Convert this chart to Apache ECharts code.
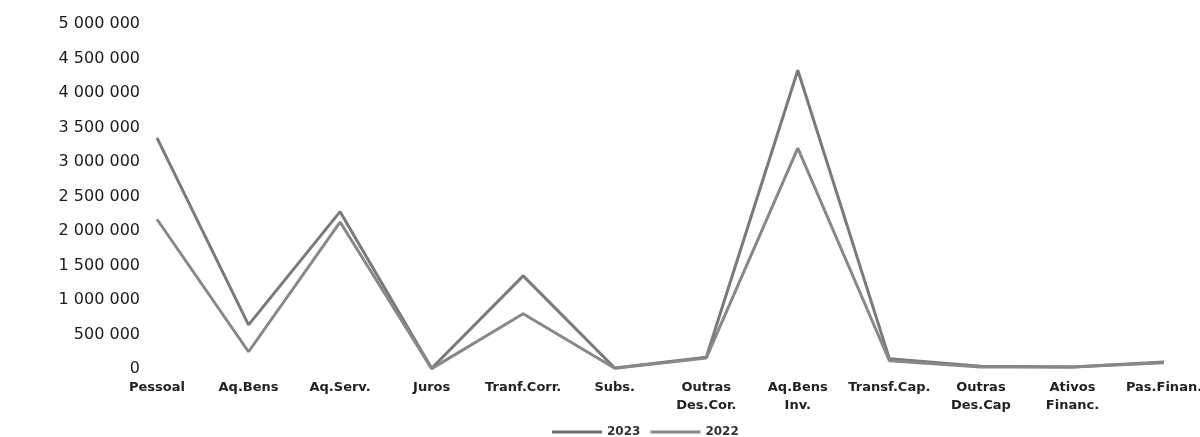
<!DOCTYPE html>
<html>
<head>
<meta charset="utf-8">
<script src="https://cdn.jsdelivr.net/npm/echarts@6/dist/echarts.min.js"></script>
<style>
  html, body { margin: 0; padding: 0; background: #fff; }
  #chart1 { width: 1200px; height: 437px; }
</style>
</head>
<body>
<div id="chart1"></div>
<script>
var categories = ["Pessoal", "Aq.Bens", "Aq.Serv.", "Juros", "Tranf.Corr.", "Subs.", "Outras\nDes.Cor.", "Aq.Bens\nInv.", "Transf.Cap.", "Outras\nDes.Cap", "Ativos\nFinanc.", "Pas.Finan."];
var values2023 = [3350000, 640000, 2280000, 10000, 1350000, 15000, 170000, 4330000, 150000, 40000, 30000, 100000];
var values2022 = [2170000, 250000, 2130000, 5000, 800000, 10000, 160000, 3200000, 120000, 30000, 30000, 90000];
var yTicks = [0, 5000000, 500000]; // min, max, interval

var fmt = function (v) {
    return String(v).replace(/\B(?=(\d{3})+(?!\d))/g, " ");
};

var myChart = echarts.init(document.getElementById("chart1"));
var option = {
    animation: false,
    grid: { left: 157, right: 36, top: 24, bottom: 68, outerBoundsMode: "none" },
    legend: {
        top: 426,
        left: 552,
        padding: 0,
        icon: "rect",
        itemWidth: 50,
        itemHeight: 3,
        itemGap: 10,
        textStyle: { fontFamily: "DejaVu Sans", fontWeight: "bold", fontSize: 12, color: "#333" },
        data: ["2023", "2022"]
    },
    xAxis: {
        type: "category",
        boundaryGap: false,
        data: categories,
        axisLine: { show: false },
        axisTick: { show: false },
        axisLabel: {
            interval: 0,
            margin: 10,
            fontFamily: "DejaVu Sans",
            fontWeight: "bold",
            fontSize: 13,
            lineHeight: 18,
            color: "#222"
        }
    },
    yAxis: {
        type: "value",
        min: yTicks[0],
        max: yTicks[1],
        interval: yTicks[2],
        splitLine: { show: false },
        axisLine: { show: false },
        axisLabel: {
            margin: 17,
            fontFamily: "DejaVu Sans",
            fontSize: 16,
            color: "#1a1a1a",
            formatter: fmt
        }
    },
    series: [
        {
            name: "2023",
            type: "line",
            data: values2023,
            symbol: "none",
            lineStyle: { color: "#7a7a7a", width: 3 },
            itemStyle: { color: "#6e6e6e" }
        },
        {
            name: "2022",
            type: "line",
            data: values2022,
            symbol: "none",
            lineStyle: { color: "#888888", width: 3 },
            itemStyle: { color: "#888888" }
        }
    ]
};
myChart.setOption(option);
</script>
</body>
</html>
